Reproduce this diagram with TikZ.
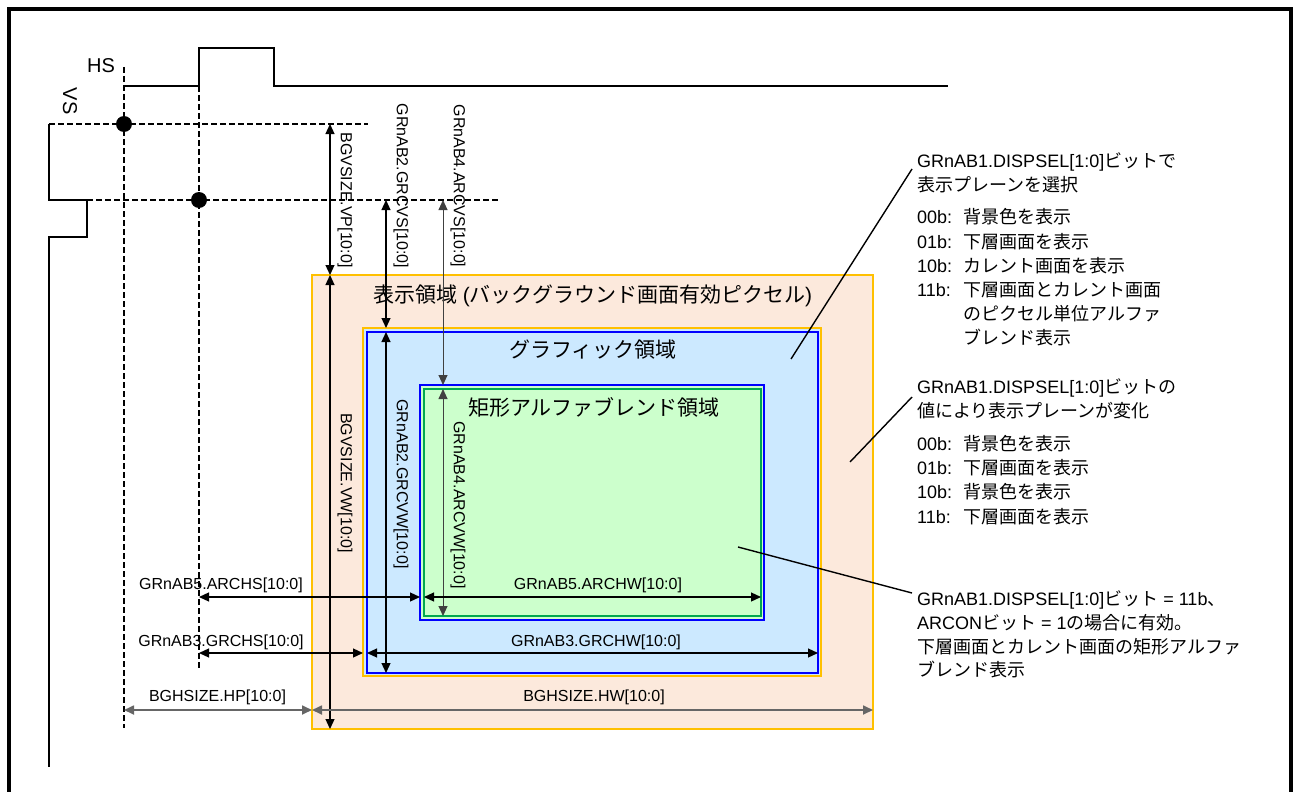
\documentclass[tikz,border=0pt]{standalone}
\usepackage{fontspec}
\setmainfont{Liberation Sans}
\newfontfamily\jp{Noto Sans CJK JP}
\usetikzlibrary{arrows.meta}
\definecolor{peach}{HTML}{FCE9DC}
\definecolor{orng}{HTML}{FFC000}
\definecolor{lblue}{HTML}{CCE9FF}
\definecolor{bblue}{HTML}{0000FF}
\definecolor{lgreen}{HTML}{CCFFCC}
\definecolor{ggreen}{HTML}{00A850}
\definecolor{dgray}{HTML}{404040}
\definecolor{mgray}{HTML}{666666}
\begin{document}
\begin{tikzpicture}[x=1pt,y=-1pt,
  >={Triangle[length=10pt,width=9pt]},
  box/.style={rectangle,inner sep=0pt,outer sep=0pt,line width=2.5pt},
  sig/.style={line width=1.5pt,line join=miter},
  dsh/.style={line width=1.2pt,dash pattern=on 6pt off 3pt},
  dim/.style={<->,line width=1.2pt},
  dimg/.style={<->,line width=0.9pt,draw=dgray},
  dimh/.style={<->,line width=1.7pt,draw=mgray},
  ptr/.style={line width=1.4pt},
  lbl/.style={font=\fontsize{16}{18}\selectfont,inner sep=0pt},
  vlbl/.style={lbl,rotate=-90},
  ttl/.style={font=\fontsize{21}{24}\selectfont,inner sep=0pt},
  tx/.style={font=\fontsize{18}{22}\selectfont,inner sep=0pt,anchor=base west}]
\useasboundingbox (0,0) rectangle (1293,792);
% frame
\draw[line width=3.5pt] (9,792) -- (9,9) -- (1291,9) -- (1291,792);

% rectangles
\node[box,fill=peach,draw=orng,minimum width=561pt,minimum height=454pt] (bg) at (592.5,502) {};
\node[box,fill=lblue,draw=orng,minimum width=458pt,minimum height=348pt] (grO) at (592,502) {};
\node[box,fill=lblue,draw=bblue,minimum width=451pt,minimum height=341pt] (gr) at (592.5,502.5) {};
\node[box,fill=lgreen,draw=bblue,minimum width=344pt,minimum height=235pt] (arO) at (592,502.5) {};
\node[box,fill=lgreen,draw=ggreen,minimum width=337pt,minimum height=227pt] (ar) at (592.5,502.5) {};

% titles
\node[ttl] (t1) at (592.5,296) {{\jp 表示領域} ({\jp バックグラウンド画面有効ピクセル})};
\node[ttl] (t2) at (593,350) {\jp グラフィック領域};
\node[ttl] (t3) at (594,407) {\jp 矩形アルファブレンド領域};

% HS signal
\node[font=\fontsize{20}{22}\selectfont,inner sep=0pt] (hs) at (101,66) {HS};
\draw[sig] (124,86) -- (199,86) -- (199,48) -- (274,48) -- (274,86) -- (948,86);
% VS signal
\node[font=\fontsize{20}{22}\selectfont,inner sep=0pt,rotate=-90] (vs) at (70,101) {VS};
\draw[sig] (49,124) -- (49,200) -- (87,200) -- (87,237) -- (49,237) -- (49,767);

% dashed guides
\draw[dsh] (124,67) -- (124,728);
\draw[dsh] (199,86) -- (199,670);
\draw[dsh] (49,124) -- (368,124);
\draw[dsh] (87,200) -- (498,200);
\fill (124,124) circle (8pt);
\fill (199,200) circle (8pt);

% coordinates for dimension arrows
\coordinate (vpT) at (330,124); \coordinate (vpB) at (330,275); \coordinate (vwB) at (330,729);
\coordinate (gsT) at (386,200); \coordinate (gsB) at (386,328);
\coordinate (gwT) at (386,332); \coordinate (gwB) at (386,673);
\coordinate (asT) at (443,200); \coordinate (asB) at (443,385);
\coordinate (awT) at (443,389); \coordinate (awB) at (443,616);
\coordinate (ahL) at (199,597); \coordinate (ahR) at (420,597);
\coordinate (awL) at (424,597); \coordinate (awR) at (761,597);
\coordinate (ghL) at (199,653); \coordinate (ghR) at (363,653);
\coordinate (gwL) at (367,653); \coordinate (gwR) at (818,653);
\coordinate (hpL) at (124,710); \coordinate (hpR) at (312,710);
\coordinate (hwR) at (873,710);

\draw[dim] (vpT) -- (vpB);
\draw[dim] (vpB) -- (vwB);
\draw[dim] (gsT) -- (gsB);
\draw[dim] (gwT) -- (gwB);
\draw[dimg] (asT) -- (asB);
\draw[dimg] (awT) -- (awB);
\draw[dim] (ahL) -- (ahR);
\draw[dim] (awL) -- (awR);
\draw[dim] (ghL) -- (ghR);
\draw[dim] (gwL) -- (gwR);
\draw[dimh] (hpL) -- (hpR);
\draw[dimh] (hpR) -- (hwR);

% dimension labels
\node[vlbl] (l1) at (345,200) {BGVSIZE.VP[10:0]};
\node[vlbl] (l2) at (345,483) {BGVSIZE.VW[10:0]};
\node[vlbl] (l3) at (401,186) {GRnAB2.GRCVS[10:0]};
\node[vlbl] (l4) at (401,484) {GRnAB2.GRCVW[10:0]};
\node[vlbl] (l5) at (458,186) {GRnAB4.ARCVS[10:0]};
\node[vlbl] (l6) at (458,505) {GRnAB4.ARCVW[10:0]};
\node[lbl] (l7) at (221,585) {GRnAB5.ARCHS[10:0]};
\node[lbl] (l8) at (598,585) {GRnAB5.ARCHW[10:0]};
\node[lbl] (l9) at (221,642) {GRnAB3.GRCHS[10:0]};
\node[lbl] (l10) at (596,642) {GRnAB3.GRCHW[10:0]};
\node[lbl] (l11) at (217.5,697) {BGHSIZE.HP[10:0]};
\node[lbl] (l12) at (594,697) {BGHSIZE.HW[10:0]};

% pointer lines
\coordinate (p1a) at (791,359); \coordinate (p1b) at (912,169);
\coordinate (p2a) at (850,462); \coordinate (p2b) at (912,397);
\coordinate (p3a) at (738,547); \coordinate (p3b) at (912,593);
\draw[ptr] (p1a) -- (p1b);
\draw[ptr] (p2a) -- (p2b);
\draw[ptr] (p3a) -- (p3b);

% text block 1
\node[tx] (a1) at (917,167) {GRnAB1.DISPSEL[1:0]{\jp ビットで}};
\node[tx] (a2) at (917,191) {\jp 表示プレーンを選択};
\node[tx] (a3) at (917,223) {\makebox[46pt][l]{00b:}{\jp 背景色を表示}};
\node[tx] (a4) at (917,248) {\makebox[46pt][l]{01b:}{\jp 下層画面を表示}};
\node[tx] (a5) at (917,272) {\makebox[46pt][l]{10b:}{\jp カレント画面を表示}};
\node[tx] (a6) at (917,296) {\makebox[46pt][l]{11b:}{\jp 下層画面とカレント画面}};
\node[tx] (a7) at (963,320) {\jp のピクセル単位アルファ};
\node[tx] (a8) at (963,344) {\jp ブレンド表示};

% text block 2
\node[tx] (b1) at (917,393) {GRnAB1.DISPSEL[1:0]{\jp ビットの}};
\node[tx] (b2) at (917,417) {\jp 値により表示プレーンが変化};
\node[tx] (b3) at (917,450) {\makebox[46pt][l]{00b:}{\jp 背景色を表示}};
\node[tx] (b4) at (917,474) {\makebox[46pt][l]{01b:}{\jp 下層画面を表示}};
\node[tx] (b5) at (917,498) {\makebox[46pt][l]{10b:}{\jp 背景色を表示}};
\node[tx] (b6) at (917,523) {\makebox[46pt][l]{11b:}{\jp 下層画面を表示}};

% text block 3
\node[tx] (c1) at (917,605) {GRnAB1.DISPSEL[1:0]{\jp ビット} = 11b{\jp 、}};
\node[tx] (c2) at (917,629) {ARCON{\jp ビット} = 1{\jp の場合に有効。}};
\node[tx] (c3) at (917,653) {\jp 下層画面とカレント画面の矩形アルファ};
\node[tx] (c4) at (917,676) {\jp ブレンド表示};
\end{tikzpicture}
\end{document}
